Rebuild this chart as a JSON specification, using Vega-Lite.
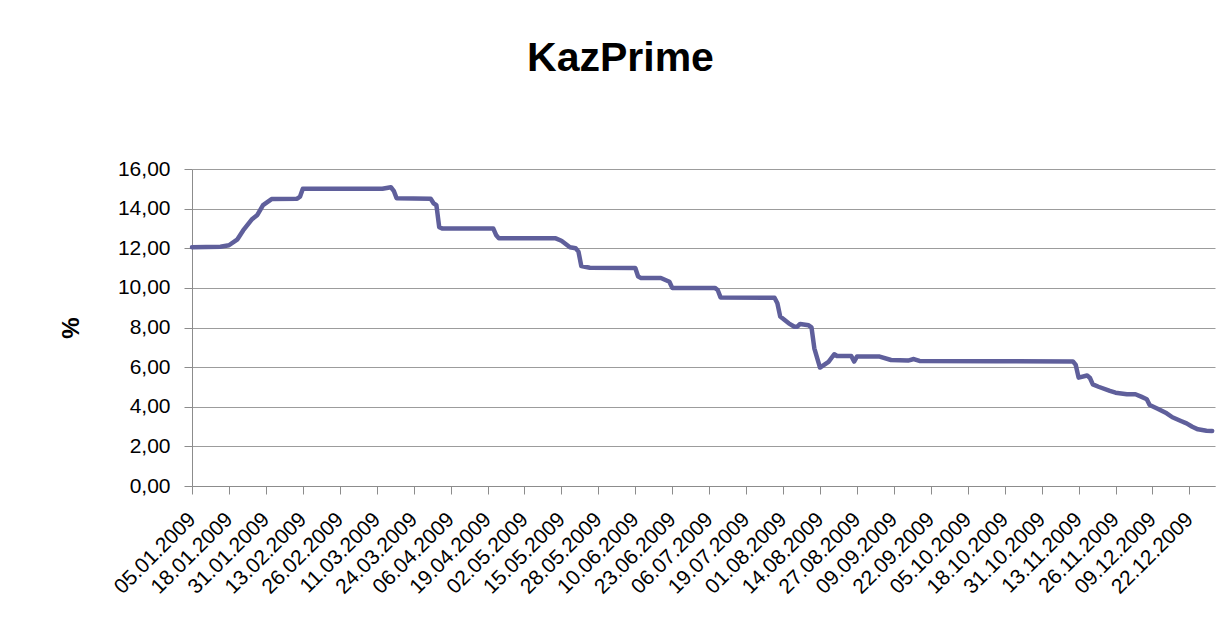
{
  "$schema": "https://vega.github.io/schema/vega-lite/v6.json",
  "width": 1023,
  "height": 317,
  "autosize": {"type": "none"},
  "padding": {"left": 192, "top": 169, "right": 9, "bottom": 155},
  "background": "white",
  "title": {
    "text": "KazPrime",
    "font": "Liberation Sans",
    "fontSize": 41,
    "fontWeight": "bold",
    "color": "black",
    "anchor": "middle",
    "frame": "group",
    "dx": -83,
    "baseline": "alphabetic",
    "offset": 46
  },
  "config": {
    "view": {"stroke": null},
    "axis": {
      "labelFont": "Liberation Sans",
      "labelFontSize": 21,
      "labelColor": "black",
      "titleFont": "Liberation Sans",
      "domainColor": "#8c8c8c",
      "tickColor": "#8c8c8c",
      "gridColor": "#9c9c9c",
      "tickSize": 8
    }
  },
  "data": {
    "values": [
      {"d": "2009-01-05", "v": 12.05},
      {"d": "2009-01-15", "v": 12.08},
      {"d": "2009-01-18", "v": 12.15},
      {"d": "2009-01-21", "v": 12.45},
      {"d": "2009-01-23", "v": 12.9},
      {"d": "2009-01-26", "v": 13.45},
      {"d": "2009-01-28", "v": 13.68},
      {"d": "2009-01-30", "v": 14.18},
      {"d": "2009-02-02", "v": 14.48},
      {"d": "2009-02-11", "v": 14.5},
      {"d": "2009-02-12", "v": 14.6},
      {"d": "2009-02-13", "v": 15.0},
      {"d": "2009-03-13", "v": 15.0},
      {"d": "2009-03-16", "v": 15.08},
      {"d": "2009-03-17", "v": 14.9},
      {"d": "2009-03-18", "v": 14.52},
      {"d": "2009-03-30", "v": 14.5},
      {"d": "2009-03-31", "v": 14.27},
      {"d": "2009-04-01", "v": 14.18},
      {"d": "2009-04-02", "v": 13.06},
      {"d": "2009-04-03", "v": 13.0},
      {"d": "2009-04-21", "v": 13.0},
      {"d": "2009-04-22", "v": 12.67},
      {"d": "2009-04-23", "v": 12.5},
      {"d": "2009-05-13", "v": 12.5},
      {"d": "2009-05-15", "v": 12.38},
      {"d": "2009-05-18", "v": 12.05},
      {"d": "2009-05-20", "v": 12.0},
      {"d": "2009-05-21", "v": 11.83},
      {"d": "2009-05-22", "v": 11.1},
      {"d": "2009-05-25", "v": 11.02},
      {"d": "2009-06-10", "v": 11.0},
      {"d": "2009-06-11", "v": 10.57},
      {"d": "2009-06-12", "v": 10.5},
      {"d": "2009-06-19", "v": 10.5},
      {"d": "2009-06-22", "v": 10.31},
      {"d": "2009-06-23", "v": 10.0},
      {"d": "2009-07-08", "v": 10.0},
      {"d": "2009-07-09", "v": 9.89},
      {"d": "2009-07-10", "v": 9.52},
      {"d": "2009-07-29", "v": 9.5},
      {"d": "2009-07-30", "v": 9.22},
      {"d": "2009-07-31", "v": 8.55},
      {"d": "2009-08-03", "v": 8.21},
      {"d": "2009-08-05", "v": 8.04},
      {"d": "2009-08-06", "v": 8.04},
      {"d": "2009-08-07", "v": 8.18},
      {"d": "2009-08-10", "v": 8.11},
      {"d": "2009-08-11", "v": 8.01},
      {"d": "2009-08-12", "v": 6.95},
      {"d": "2009-08-14", "v": 5.98},
      {"d": "2009-08-17", "v": 6.27},
      {"d": "2009-08-19", "v": 6.65},
      {"d": "2009-08-20", "v": 6.56},
      {"d": "2009-08-25", "v": 6.56},
      {"d": "2009-08-26", "v": 6.28},
      {"d": "2009-08-27", "v": 6.53},
      {"d": "2009-09-04", "v": 6.53},
      {"d": "2009-09-08", "v": 6.36},
      {"d": "2009-09-14", "v": 6.33},
      {"d": "2009-09-16", "v": 6.41},
      {"d": "2009-09-18", "v": 6.31},
      {"d": "2009-10-15", "v": 6.3},
      {"d": "2009-11-11", "v": 6.29},
      {"d": "2009-11-12", "v": 6.11},
      {"d": "2009-11-13", "v": 5.47},
      {"d": "2009-11-16", "v": 5.58},
      {"d": "2009-11-17", "v": 5.45},
      {"d": "2009-11-18", "v": 5.13},
      {"d": "2009-11-20", "v": 5.01},
      {"d": "2009-11-24", "v": 4.8},
      {"d": "2009-11-26", "v": 4.71},
      {"d": "2009-11-30", "v": 4.63},
      {"d": "2009-12-03", "v": 4.63},
      {"d": "2009-12-05", "v": 4.51},
      {"d": "2009-12-07", "v": 4.38},
      {"d": "2009-12-08", "v": 4.09},
      {"d": "2009-12-11", "v": 3.89},
      {"d": "2009-12-14", "v": 3.67},
      {"d": "2009-12-16", "v": 3.47},
      {"d": "2009-12-19", "v": 3.28},
      {"d": "2009-12-21", "v": 3.16},
      {"d": "2009-12-23", "v": 2.99},
      {"d": "2009-12-25", "v": 2.86},
      {"d": "2009-12-28", "v": 2.79},
      {"d": "2009-12-30", "v": 2.78}
    ]
  },
  "mark": {"type": "line", "color": "#5f5f9b", "strokeWidth": 4.5, "strokeJoin": "round", "strokeCap": "round", "clip": false},
  "encoding": {
    "x": {
      "field": "d",
      "type": "temporal",
      "scale": {
        "type": "utc",
        "domain": [
          {"year": 2009, "month": 1, "date": 5, "utc": true},
          {"year": 2009, "month": 12, "date": 31, "utc": true}
        ]
      },
      "axis": {
        "title": null,
        "grid": false,
        "labelExpr": "utcFormat(datum.value, '%d.%m.%Y')",
        "labelAngle": -45,
        "labelAlign": "right",
        "labelBaseline": "middle",
        "labelPadding": 22,
        "labelOverlap": false,
        "labelFlush": false,
        "labelBound": false,
        "values": [
          {"year": 2009, "month": 1, "date": 5, "utc": true},
          {"year": 2009, "month": 1, "date": 18, "utc": true},
          {"year": 2009, "month": 1, "date": 31, "utc": true},
          {"year": 2009, "month": 2, "date": 13, "utc": true},
          {"year": 2009, "month": 2, "date": 26, "utc": true},
          {"year": 2009, "month": 3, "date": 11, "utc": true},
          {"year": 2009, "month": 3, "date": 24, "utc": true},
          {"year": 2009, "month": 4, "date": 6, "utc": true},
          {"year": 2009, "month": 4, "date": 19, "utc": true},
          {"year": 2009, "month": 5, "date": 2, "utc": true},
          {"year": 2009, "month": 5, "date": 15, "utc": true},
          {"year": 2009, "month": 5, "date": 28, "utc": true},
          {"year": 2009, "month": 6, "date": 10, "utc": true},
          {"year": 2009, "month": 6, "date": 23, "utc": true},
          {"year": 2009, "month": 7, "date": 6, "utc": true},
          {"year": 2009, "month": 7, "date": 19, "utc": true},
          {"year": 2009, "month": 8, "date": 1, "utc": true},
          {"year": 2009, "month": 8, "date": 14, "utc": true},
          {"year": 2009, "month": 8, "date": 27, "utc": true},
          {"year": 2009, "month": 9, "date": 9, "utc": true},
          {"year": 2009, "month": 9, "date": 22, "utc": true},
          {"year": 2009, "month": 10, "date": 5, "utc": true},
          {"year": 2009, "month": 10, "date": 18, "utc": true},
          {"year": 2009, "month": 10, "date": 31, "utc": true},
          {"year": 2009, "month": 11, "date": 13, "utc": true},
          {"year": 2009, "month": 11, "date": 26, "utc": true},
          {"year": 2009, "month": 12, "date": 9, "utc": true},
          {"year": 2009, "month": 12, "date": 22, "utc": true}
        ]
      }
    },
    "y": {
      "field": "v",
      "type": "quantitative",
      "scale": {"domain": [0, 16], "nice": false, "zero": true},
      "axis": {
        "title": "%",
        "titleFontSize": 24,
        "titleFontWeight": "bold",
        "titleColor": "black",
        "titlePadding": 34,
        "values": [0, 2, 4, 6, 8, 10, 12, 14, 16],
        "labelExpr": "replace(format(datum.value, '.2f'), '.', ',')",
        "labelPadding": 14,
        "grid": true
      }
    }
  }
}
